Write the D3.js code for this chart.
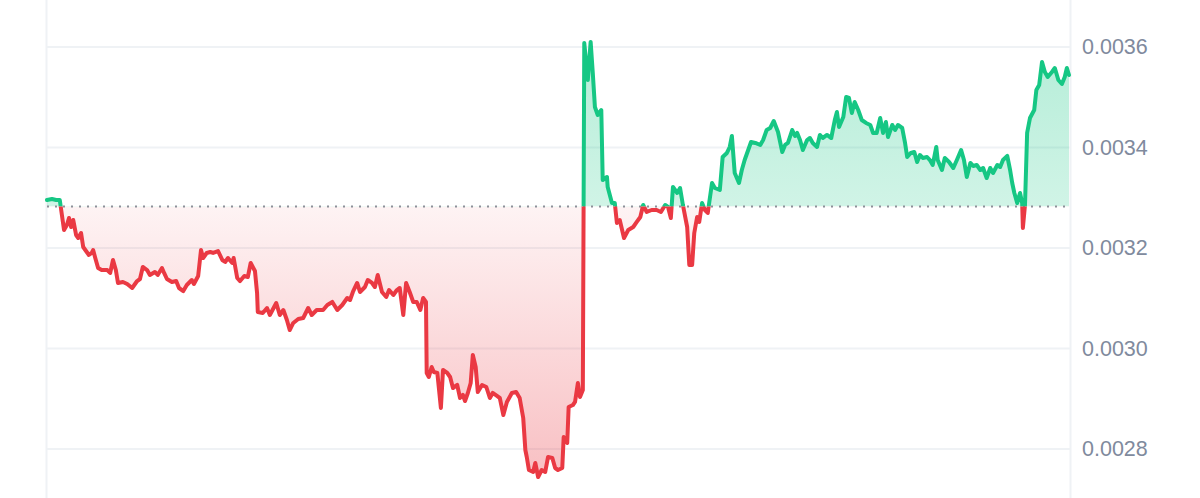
<!DOCTYPE html>
<html><head><meta charset="utf-8">
<script src="https://cdn.jsdelivr.net/npm/d3@7"></script>
<style>html,body{margin:0;padding:0;background:#fff;} svg{display:block}</style>
</head><body><svg id="chart" width="1200" height="498"></svg>
<script>
// time of each sample, minutes from start of the 24h window
const minutes = [0,7,13,18,21,24,28,31,34,37,
41,44,48,51,56,59,63,65,68,72,
77,85,89,93,97,100,107,113,120,127,
131,135,141,145,152,156,162,165,169,176,
182,186,192,197,204,207,213,217,220,225,
230,234,241,247,251,255,261,263,268,272,
278,283,287,293,296,297,304,310,314,323,
328,333,338,342,347,354,361,368,373,380,
389,395,402,409,416,423,427,431,437,441,
448,452,458,462,466,472,478,482,488,493,
497,502,506,511,516,521,526,530,534,535,
538,542,545,550,555,558,564,568,572,578,
582,586,589,593,597,600,604,607,613,619,
624,628,634,638,643,648,655,661,666,671,
674,676,679,685,688,692,697,702,706,712,
716,720,726,728,733,735,741,744,748,751,
755,757,762,766,769,772,776,781,783,789,
790,796,800,803,807,813,819,826,831,836,
840,845,852,859,865,871,875,879,882,888,
892,896,902,905,909,912,916,919,923,927,
931,937,941,948,952,958,962,965,969,975,
979,983,988,992,998,1005,1009,1014,1019,1024,
1030,1036,1040,1044,1050,1054,1057,1061,1065,1071,
1075,1079,1085,1089,1093,1099,1105,1110,1113,1116,
1122,1126,1130,1134,1138,1143,1148,1154,1160,1164,
1169,1174,1178,1182,1185,1191,1195,1199,1205,1209,
1212,1217,1222,1226,1230,1234,1240,1244,1248,1253,
1255,1261,1265,1271,1277,1282,1288,1292,1296,1301,
1305,1310,1315,1319,1324,1329,1333,1339,1343,1347,
1353,1357,1360,1363,1367,1371,1374,1375,1378,1381,
1385,1391,1394,1398,1402,1406,1410,1416,1420,1425,
1430,1434,1437,1440];

// price at each sample
const prices = [0.0032955,0.0032975,0.0032955,0.0032955,0.0032657,0.0032358,0.0032458,0.0032597,0.0032418,0.0032557,
0.0032259,0.0032199,0.0032299,0.003202,0.003192,0.0031861,0.0031901,0.003196,0.0031801,0.0031602,
0.0031562,0.0031562,0.0031503,0.0031761,0.0031562,0.0031304,0.0031324,0.0031284,0.0031204,0.0031343,
0.0031383,0.0031622,0.0031562,0.0031463,0.0031523,0.0031463,0.0031602,0.0031503,0.0031383,0.0031324,
0.0031343,0.0031204,0.0031144,0.0031264,0.0031363,0.0031284,0.0031443,0.003196,0.0031801,0.0031901,
0.003192,0.0031901,0.003194,0.0031761,0.0031722,0.0031801,0.0031702,0.0031801,0.0031403,0.0031343,
0.0031443,0.0031423,0.0031702,0.0031542,0.0031105,0.0030727,0.0030707,0.0030806,0.0030667,0.0030906,
0.0030667,0.0030766,0.0030567,0.0030368,0.0030508,0.0030587,0.0030607,0.0030806,0.0030667,0.0030766,
0.0030766,0.0030866,0.0030926,0.0030766,0.0030866,0.0031005,0.0030965,0.0031125,0.0031304,0.0031125,
0.0031224,0.0031363,0.0031304,0.0031224,0.0031463,0.0031125,0.0031025,0.0031164,0.0031065,0.0031164,
0.0031204,0.0030667,0.0031304,0.0031125,0.0030926,0.0030926,0.0030766,0.0031005,0.0030926,0.0029513,
0.0029433,0.0029632,0.0029533,0.0029513,0.0028816,0.0029572,0.0029513,0.0029433,0.0029214,0.0029274,
0.0029015,0.0029075,0.0028955,0.0029115,0.0029314,0.0029871,0.0029632,0.0029135,0.0029274,0.0029234,
0.0029015,0.0029115,0.0029055,0.0029015,0.0028677,0.0028936,0.0029115,0.0029135,0.0029015,0.0028617,
0.002798,0.0027841,0.0027582,0.0027543,0.0027722,0.0027443,0.0027582,0.0027543,0.0027841,0.0027821,
0.0027622,0.0027582,0.0027622,0.0028239,0.002812,0.0028836,0.0028876,0.0028936,0.0029314,0.0029035,
0.0029174,0.003608,0.0035343,0.00361,0.0035483,0.0034806,0.0034647,0.0034746,0.0033353,0.0033413,
0.0033214,0.0032896,0.0032896,0.0032498,0.0032557,0.0032199,0.0032358,0.0032418,0.0032518,0.0032617,
0.0032856,0.0032717,0.0032756,0.0032756,0.0032717,0.0032856,0.0032816,0.0032597,0.0033214,0.0033095,
0.0033194,0.0032856,0.0032418,0.0031662,0.0031662,0.0032299,0.0032617,0.0032518,0.0032896,0.0032756,
0.0032697,0.0033294,0.0033194,0.0033154,0.0033811,0.0033891,0.003401,0.0034229,0.0033493,0.0033294,
0.0033552,0.0033751,0.003395,0.003411,0.003409,0.003405,0.0034149,0.0034348,0.0034388,0.0034527,
0.0034309,0.0033911,0.003405,0.003409,0.0034348,0.0034229,0.0034289,0.0034149,0.003395,0.0034149,
0.0034189,0.003409,0.003401,0.0034249,0.0034189,0.0034249,0.0034189,0.0034547,0.0034707,0.0034408,
0.0034607,0.0035005,0.0034985,0.0034687,0.0034906,0.0034746,0.0034547,0.0034488,0.0034448,0.0034289,
0.0034289,0.0034587,0.0034289,0.0034508,0.0034209,0.0034448,0.0034348,0.0034448,0.0034388,0.003409,
0.0033811,0.0033891,0.0033911,0.0033712,0.0033851,0.0033791,0.0033811,0.0033751,0.0033652,0.003401,
0.0033751,0.0033552,0.0033791,0.0033712,0.0033592,0.0033751,0.003395,0.0033751,0.0033413,0.0033692,
0.0033632,0.0033652,0.0033552,0.0033592,0.0033393,0.0033592,0.0033493,0.0033652,0.0033612,0.0033751,
0.0033831,0.0033552,0.0033294,0.0033095,0.0032896,0.0033095,0.0032896,0.0032398,0.0032856,0.0034289,
0.0034587,0.0034746,0.0035144,0.0035244,0.0035702,0.0035503,0.0035403,0.0035503,0.0035582,0.0035343,
0.0035264,0.0035403,0.0035582,0.0035443];

const baselinePrice = 0.0032826;
const tickValues = [0.0028, 0.0030, 0.0032, 0.0034, 0.0036];
const tickLabels = ["0.0028", "0.0030", "0.0032", "0.0034", "0.0036"];

const W = 1200, H = 498;
const upColor = "#16c784", downColor = "#ea3943";
const x = d3.scaleLinear().domain([0, 1440]).range([47, 1069]);
const y = d3.scaleLinear().domain([0.0028, 0.0036]).range([449, 47]);
const data = minutes.map((m, i) => ({ t: m, p: prices[i] }));

const svg = d3.select("#chart");
const defs = svg.append("defs");
const by = y(baselinePrice);

defs.append("clipPath").attr("id", "clipUp").append("rect")
  .attr("x", 0).attr("y", 0).attr("width", W).attr("height", by);
defs.append("clipPath").attr("id", "clipDown").append("rect")
  .attr("x", 0).attr("y", by).attr("width", W).attr("height", H - by);

const gUp = defs.append("linearGradient").attr("id", "gradUp")
  .attr("gradientUnits", "userSpaceOnUse").attr("x1", 0).attr("x2", 0)
  .attr("y1", y(d3.max(prices))).attr("y2", by);
gUp.append("stop").attr("offset", 0).attr("stop-color", upColor).attr("stop-opacity", 0.32);
gUp.append("stop").attr("offset", 1).attr("stop-color", upColor).attr("stop-opacity", 0.2);

const gDown = defs.append("linearGradient").attr("id", "gradDown")
  .attr("gradientUnits", "userSpaceOnUse").attr("x1", 0).attr("x2", 0)
  .attr("y1", by).attr("y2", y(d3.min(prices)));
gDown.append("stop").attr("offset", 0).attr("stop-color", downColor).attr("stop-opacity", 0.06);
gDown.append("stop").attr("offset", 1).attr("stop-color", downColor).attr("stop-opacity", 0.32);

// grid
svg.append("g").selectAll("line").data(tickValues).join("line")
  .attr("x1", 47).attr("x2", 1070)
  .attr("y1", d => y(d)).attr("y2", d => y(d))
  .attr("stroke", "#eff2f5").attr("stroke-width", 2);

// frame lines
svg.append("line").attr("x1", 46.5).attr("x2", 46.5).attr("y1", 0).attr("y2", H)
  .attr("stroke", "#eff2f5").attr("stroke-width", 2);
svg.append("line").attr("x1", 1070.5).attr("x2", 1070.5).attr("y1", 0).attr("y2", H)
  .attr("stroke", "#eff2f5").attr("stroke-width", 2);

const area = d3.area().x(d => x(d.t)).y0(by).y1(d => y(d.p));
const line = d3.line().x(d => x(d.t)).y(d => y(d.p));

svg.append("path").datum(data).attr("d", area)
  .attr("fill", "url(#gradUp)").attr("clip-path", "url(#clipUp)");
svg.append("path").datum(data).attr("d", area)
  .attr("fill", "url(#gradDown)").attr("clip-path", "url(#clipDown)");

// baseline
svg.append("line").attr("x1", 47).attr("x2", 1070).attr("y1", by).attr("y2", by)
  .attr("stroke", "#8d9099").attr("stroke-width", 2).attr("stroke-dasharray", "2 6");

svg.append("path").datum(data).attr("d", line)
  .attr("fill", "none").attr("stroke", upColor).attr("stroke-width", 4)
  .attr("stroke-linejoin", "round").attr("stroke-linecap", "round").attr("clip-path", "url(#clipUp)");
svg.append("path").datum(data).attr("d", line)
  .attr("fill", "none").attr("stroke", downColor).attr("stroke-width", 4)
  .attr("stroke-linejoin", "round").attr("stroke-linecap", "round").attr("clip-path", "url(#clipDown)");

// y-axis labels
const ax = svg.append("g").attr("transform", "translate(1082,0)")
  .call(d3.axisRight(y).tickValues(tickValues).tickFormat((d, i) => tickLabels[i]).tickSize(0).tickPadding(0));
ax.select(".domain").remove();
ax.selectAll("text").attr("fill", "#808a9d")
  .style("font-family", "'Liberation Sans', Arial, sans-serif").style("font-size", "21.5px");
</script></body></html>
